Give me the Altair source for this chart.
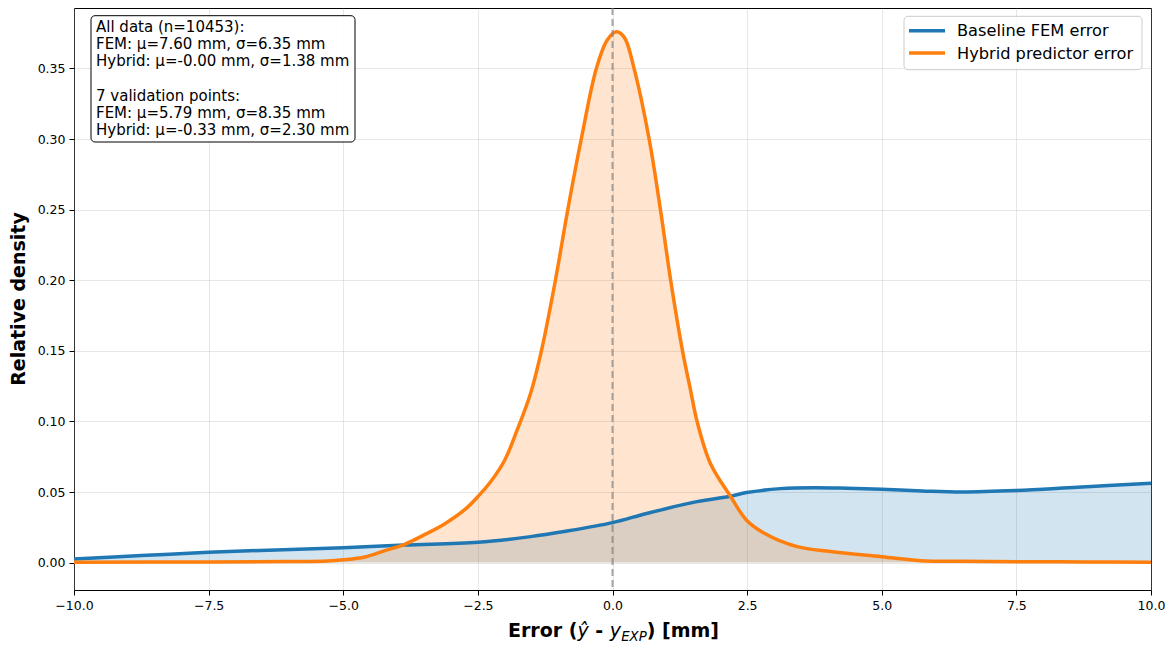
import altair as alt
import pandas as pd

# ---------------- data ----------------
SERIES = ["Baseline FEM error", "Hybrid predictor error"]
COLORS = ["#1f77b4", "#ff7f0e"]

FEM_X = [-10.0, -8.75, -7.5, -6.25, -5.0, -3.86, -2.5, -1.52, -0.9, 0.0, 0.65,
         1.57, 2.19, 2.49, 3.12, 3.74, 4.36, 5.0, 5.75, 6.47, 7.49, 8.64, 10.0]
FEM_Y = [0.0026, 0.005, 0.0073, 0.009, 0.0106, 0.0125, 0.0144, 0.0184, 0.022, 0.0283, 0.035,
         0.0432, 0.047, 0.0496, 0.0524, 0.0531, 0.0527, 0.052, 0.0508, 0.050, 0.051, 0.0534, 0.0562]

HYB_X = [-10.0, -7.5, -6.0, -5.3, -5.0, -4.6, -4.23, -3.86, -3.5, -3.12, -2.75, -2.5,
         -2.26, -2.0, -1.77, -1.52, -1.32, -1.06, -0.83, -0.58, -0.30, -0.1, 0.07, 0.22,
         0.40, 0.68, 0.89, 1.08, 1.30, 1.45, 1.57, 1.82, 2.19, 2.49, 2.81, 3.43, 4.05,
         5.0, 5.72, 6.5, 7.5, 8.75, 10.0]
HYB_Y = [0.0003, 0.0005, 0.0008, 0.0012, 0.002, 0.004, 0.0085, 0.013, 0.0196, 0.0274, 0.0373, 0.0467,
         0.0574, 0.0727, 0.094, 0.12, 0.15, 0.20, 0.25, 0.30, 0.35, 0.370, 0.376, 0.372,
         0.35, 0.30, 0.25, 0.20, 0.15, 0.122, 0.10, 0.070, 0.047, 0.030, 0.021, 0.0113, 0.0078,
         0.0042, 0.0014, 0.0009, 0.0006, 0.0005, 0.0003]

X_TICKS = [-10, -7.5, -5, -2.5, 0, 2.5, 5, 7.5, 10]
Y_TICKS = [0.0, 0.05, 0.10, 0.15, 0.20, 0.25, 0.30, 0.35]

STATS_BLOCK_1 = [
    "All data (n=10453):",
    "FEM: μ=7.60 mm, σ=6.35 mm",
    "Hybrid: μ=-0.00 mm, σ=1.38 mm",
]
STATS_BLOCK_2 = [
    "7 validation points:",
    "FEM: μ=5.79 mm, σ=8.35 mm",
    "Hybrid: μ=-0.33 mm, σ=2.30 mm",
]

Y_TITLE = "Relative density"
# x title pieces: (text, x offset in plot px, weight, style, size, baseline y, align)
X_TITLE_PIECES = [
    ("Error (", 434.0, "bold", "normal", 19, 629, "left"),
    ("ŷ", 503.4, "normal", "italic", 19, 629, "left"),
    ("-", 525.2, "bold", "normal", 19, 629, "center"),
    ("y", 535.7, "normal", "italic", 19, 629, "left"),
    ("EXP", 547.2, "normal", "italic", 13.3, 633, "left"),
    (") [mm]", 572.7, "bold", "normal", 19, 629, "left"),
]

FONT = "DejaVu Sans"
W, H = 1077, 582
LINE_H = 17.1

# ---------------- build ----------------
fem_df = pd.DataFrame({"x": FEM_X, "y": FEM_Y, "series": SERIES[0]})
hyb_df = pd.DataFrame({"x": HYB_X, "y": HYB_Y, "series": SERIES[1]})
df = pd.concat([fem_df, hyb_df], ignore_index=True)

xs = alt.Scale(domain=[-10, 10], nice=False, zero=False)
ys = alt.Scale(domain=[-0.0194, 0.3928], nice=False, zero=False)
cs = alt.Scale(domain=SERIES, range=COLORS)

X_ENC = alt.X("x:Q", scale=xs, axis=alt.Axis(values=X_TICKS, format=".1f", title=None,
                                              labelFlush=False, labelOverlap=False))
Y_ENC = alt.Y("y:Q", scale=ys, axis=alt.Axis(values=Y_TICKS, format=".2f", title=None,
                                              labelOverlap=False))

INTERP = "catmull-rom"

area_fem = alt.Chart(fem_df).mark_area(
    interpolate=INTERP, opacity=0.2, color=COLORS[0]
).encode(x=X_ENC, y=Y_ENC, y2=alt.datum(0))

area_hyb = alt.Chart(hyb_df).mark_area(
    interpolate=INTERP, opacity=0.2, color=COLORS[1]
).encode(x=X_ENC, y=Y_ENC, y2=alt.datum(0))

lines = alt.Chart(df).mark_line(interpolate=INTERP, strokeWidth=3.5).encode(
    x=X_ENC, y=Y_ENC,
    stroke=alt.Stroke("series:N", scale=cs, legend=None),
)

zero_rule = alt.Chart(pd.DataFrame({"x": [0.0]})).mark_rule(
    color="gray", strokeDash=[7, 4], strokeWidth=2, opacity=0.7
).encode(x=alt.X("x:Q", scale=xs))

one = pd.DataFrame({"t": ["box"]})

# ----- stats annotation box -----
stats_box = alt.Chart(one).mark_rect(
    fill="white", fillOpacity=0.9, stroke="black", strokeWidth=1, cornerRadius=4
).encode(x=alt.value(17), x2=alt.value(281), y=alt.value(7.7), y2=alt.value(134))


def text_block(lines_, y0):
    return alt.Chart(pd.DataFrame({"t": ["\n".join(lines_)]})).mark_text(
        align="left", baseline="alphabetic", font=FONT, fontSize=15,
        lineHeight=LINE_H, lineBreak="\n", color="black"
    ).encode(x=alt.value(22), y=alt.value(y0), text="t:N")


stats_text1 = text_block(STATS_BLOCK_1, 24.3)
stats_text2 = text_block(STATS_BLOCK_2, 24.3 + 4 * LINE_H)

# ----- legend (drawn as marks so it matches matplotlib's compact layout) -----
LEG_X0, LEG_X1, LEG_Y0, LEG_Y1 = 830.0, 1068.0, 8.3, 61.7
LEG_ROW0, LEG_ROW_STEP = 22.7, 22.3
legend_layers = [
    alt.Chart(one).mark_rect(
        fill="white", fillOpacity=0.8, stroke="#cccccc", strokeWidth=1, cornerRadius=4
    ).encode(x=alt.value(LEG_X0), x2=alt.value(LEG_X1),
             y=alt.value(LEG_Y0), y2=alt.value(LEG_Y1))
]
for i, (name, col) in enumerate(zip(SERIES, COLORS)):
    ry = LEG_ROW0 + i * LEG_ROW_STEP
    legend_layers.append(
        alt.Chart(one).mark_rule(color=col, strokeWidth=3.5).encode(
            x=alt.value(LEG_X0 + 5), x2=alt.value(LEG_X0 + 41), y=alt.value(ry))
    )
    legend_layers.append(
        alt.Chart(pd.DataFrame({"t": [name]})).mark_text(
            align="left", baseline="middle", font=FONT, fontSize=16.2, color="black"
        ).encode(x=alt.value(LEG_X0 + 53), y=alt.value(ry + 0.5), text="t:N")
    )

# ----- axis titles -----
y_title = alt.Chart(pd.DataFrame({"t": [Y_TITLE]})).mark_text(
    angle=270, align="center", baseline="alphabetic", font=FONT, fontSize=19,
    fontWeight="bold", color="black"
).encode(x=alt.value(-48.7), y=alt.value(H / 2), text="t:N")

x_title_layers = []
for txt, px, wt, st, sz, py, al in X_TITLE_PIECES:
    x_title_layers.append(
        alt.Chart(pd.DataFrame({"t": [txt]})).mark_text(
            align=al, baseline="alphabetic", font=FONT, fontSize=sz,
            fontWeight=wt, fontStyle=st, color="black"
        ).encode(x=alt.value(px), y=alt.value(py), text="t:N")
    )

chart = alt.layer(
    area_fem, area_hyb, lines, zero_rule, stats_box, stats_text1, stats_text2,
    *legend_layers, y_title, *x_title_layers
).properties(
    width=W, height=H,
    autosize=alt.AutoSizeParams(type="none"),
    padding={"left": 66, "top": 0, "right": 14, "bottom": 55},
).configure_view(
    stroke="black", strokeWidth=1
).configure_axis(
    labelFont=FONT, labelFontSize=12.5, labelColor="black",
    tickColor="black", tickSize=5, tickWidth=1, labelPadding=4,
    domain=False, gridColor="#b0b0b0", gridOpacity=0.3, gridWidth=1,
)

chart.save("out.html", embed_options={"renderer": "svg", "actions": False})
